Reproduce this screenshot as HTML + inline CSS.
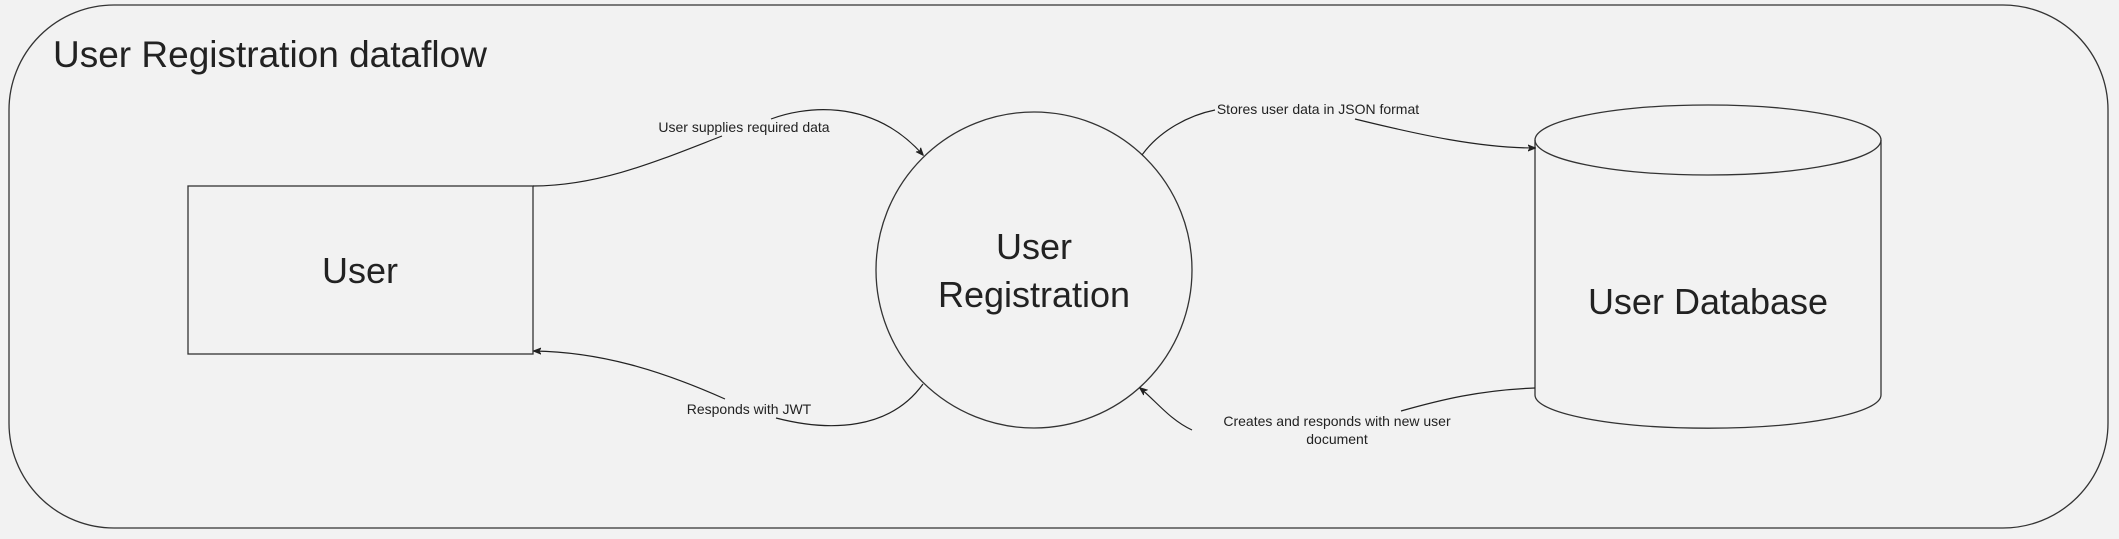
<!DOCTYPE html>
<html><head><meta charset="utf-8"><style>
html,body{margin:0;padding:0;background:#f2f2f2;}
svg{display:block;}
text{font-family:"Liberation Sans",sans-serif;fill:#222;}
</style></head><body>
<svg width="2119" height="539" viewBox="0 0 2119 539" xmlns="http://www.w3.org/2000/svg">
<defs>
<marker id="a" viewBox="0 0 10 10" refX="9" refY="5" markerWidth="8" markerHeight="8" orient="auto-start-reverse" markerUnits="userSpaceOnUse">
<path d="M0,1 L10,5 L0,9 L3,5 Z" fill="#222" stroke="#222" stroke-width="1"/>
</marker>
</defs>
<rect x="0" y="0" width="2119" height="539" fill="#f2f2f2"/>
<rect x="9" y="5" width="2099" height="523" rx="105" ry="105" fill="#f2f2f2" stroke="#333" stroke-width="1.3"/>
<text x="53" y="67" font-size="37">User Registration dataflow</text>

<rect x="188" y="186" width="345" height="168" fill="none" stroke="#333" stroke-width="1.3"/>
<text x="360" y="283" font-size="36" text-anchor="middle">User</text>

<circle cx="1034" cy="270" r="158" fill="none" stroke="#333" stroke-width="1.3"/>
<text x="1034" y="259" font-size="36" text-anchor="middle">User</text>
<text x="1034" y="307" font-size="36" text-anchor="middle">Registration</text>

<path d="M1535,140 L1535,395 A172,33 0 0 0 1881,395 L1881,140" fill="none" stroke="#333" stroke-width="1.3"/>
<ellipse cx="1708" cy="140" rx="173" ry="35" fill="none" stroke="#333" stroke-width="1.3"/>
<text x="1708" y="314" font-size="36" text-anchor="middle" fill="#333">User Database</text>

<g fill="none" stroke="#222" stroke-width="1.2">
<path d="M533,186 C600,186 660,160 722,136"/>
<path d="M771,119 C800,108 870,95 923,155" marker-end="url(#a)"/>
<path d="M923,384 C890,430 830,432 776,418"/>
<path d="M725,399 C660,370 600,352 534,351" marker-end="url(#a)"/>
<path d="M1142,155 C1160,130 1190,115 1215,110"/>
<path d="M1355,119 C1420,135 1480,148 1535,148" marker-end="url(#a)"/>
<path d="M1535,388 C1480,390 1440,400 1401,411"/>
<path d="M1192,430 C1170,420 1155,400 1140,388" marker-end="url(#a)"/>
</g>
<g font-size="14" text-anchor="middle">
<text x="744" y="132">User supplies required data</text>
<text x="749" y="414">Responds with JWT</text>
<text x="1318" y="114">Stores user data in JSON format</text>
<text x="1337" y="426">Creates and responds with new user</text>
<text x="1337" y="444">document</text>
</g>
</svg>
</body></html>
